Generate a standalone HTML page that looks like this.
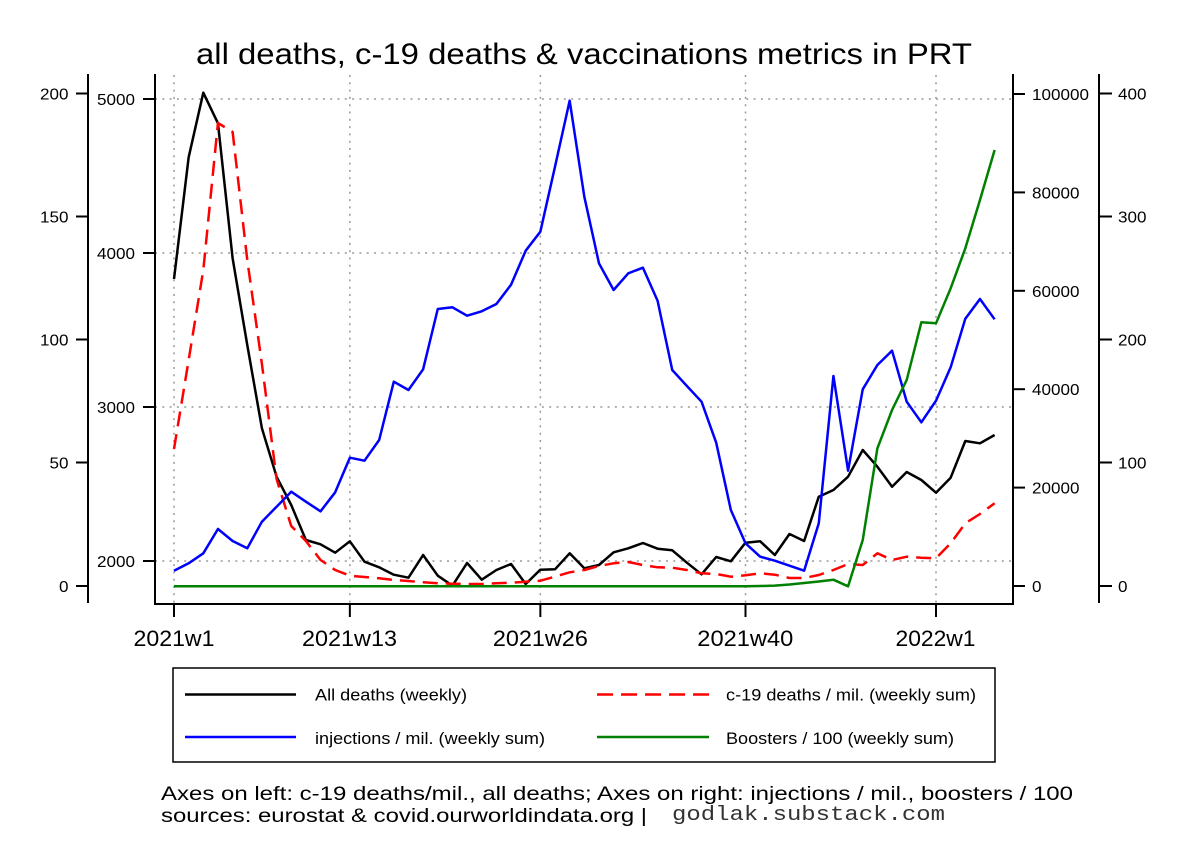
<!DOCTYPE html>
<html>
<head>
<meta charset="utf-8">
<style>
html,body{margin:0;padding:0;background:#fff;}
svg{display:block;}
text{font-family:"Liberation Sans",Arial,sans-serif;fill:#000;}
</style>
</head>
<body>
<svg width="1188" height="864" viewBox="0 0 1188 864" xmlns="http://www.w3.org/2000/svg">
<rect x="0" y="0" width="1188" height="864" fill="#fff"/>

<!-- title -->
<text x="196" y="64" font-size="30" textLength="776" lengthAdjust="spacingAndGlyphs">all deaths, c-19 deaths &amp; vaccinations metrics in PRT</text>

<!-- grid -->
<g stroke="#999" stroke-width="1.5" stroke-dasharray="2 5.3" fill="none">
<line x1="155" y1="99" x2="1013" y2="99"/>
<line x1="155" y1="253" x2="1013" y2="253"/>
<line x1="155" y1="407" x2="1013" y2="407"/>
<line x1="155" y1="561" x2="1013" y2="561"/>
<line x1="174" y1="75" x2="174" y2="604"/>
<line x1="349.85" y1="75" x2="349.85" y2="604"/>
<line x1="540.35" y1="75" x2="540.35" y2="604"/>
<line x1="745.51" y1="75" x2="745.51" y2="604"/>
<line x1="936.01" y1="75" x2="936.01" y2="604"/>
</g>

<!-- axes lines -->
<g stroke="#000" stroke-width="2" fill="none">
<polyline points="155,74 155,604 1013,604 1013,74"/>
<line x1="88" y1="74" x2="88" y2="603"/>
<line x1="76" y1="93.5" x2="88" y2="93.5"/>
<line x1="76" y1="216.5" x2="88" y2="216.5"/>
<line x1="76" y1="339.5" x2="88" y2="339.5"/>
<line x1="76" y1="462.5" x2="88" y2="462.5"/>
<line x1="76" y1="586" x2="88" y2="586"/>
<line x1="143" y1="99" x2="155" y2="99"/>
<line x1="143" y1="253" x2="155" y2="253"/>
<line x1="143" y1="407" x2="155" y2="407"/>
<line x1="143" y1="561" x2="155" y2="561"/>
<line x1="1013" y1="94" x2="1025" y2="94"/>
<line x1="1013" y1="192.4" x2="1025" y2="192.4"/>
<line x1="1013" y1="290.8" x2="1025" y2="290.8"/>
<line x1="1013" y1="389.2" x2="1025" y2="389.2"/>
<line x1="1013" y1="487.6" x2="1025" y2="487.6"/>
<line x1="1013" y1="586" x2="1025" y2="586"/>
<line x1="1099" y1="74" x2="1099" y2="603"/>
<line x1="1099" y1="93.5" x2="1112" y2="93.5"/>
<line x1="1099" y1="216.5" x2="1112" y2="216.5"/>
<line x1="1099" y1="339.5" x2="1112" y2="339.5"/>
<line x1="1099" y1="462.5" x2="1112" y2="462.5"/>
<line x1="1099" y1="586" x2="1112" y2="586"/>
<line x1="174" y1="604" x2="174" y2="617"/>
<line x1="349.85" y1="604" x2="349.85" y2="617"/>
<line x1="540.35" y1="604" x2="540.35" y2="617"/>
<line x1="745.51" y1="604" x2="745.51" y2="617"/>
<line x1="936.01" y1="604" x2="936.01" y2="617"/>
</g>

<g font-size="16" text-anchor="end">
<text x="68.5" y="99.5" textLength="28.5" lengthAdjust="spacingAndGlyphs">200</text>
<text x="68.5" y="222.5" textLength="28.5" lengthAdjust="spacingAndGlyphs">150</text>
<text x="68.5" y="345.5" textLength="28.5" lengthAdjust="spacingAndGlyphs">100</text>
<text x="68.5" y="468.5" textLength="19" lengthAdjust="spacingAndGlyphs">50</text>
<text x="68.5" y="592" textLength="9.5" lengthAdjust="spacingAndGlyphs">0</text>
</g>
<g font-size="16" text-anchor="end">
<text x="135" y="105" textLength="38" lengthAdjust="spacingAndGlyphs">5000</text>
<text x="135" y="259" textLength="38" lengthAdjust="spacingAndGlyphs">4000</text>
<text x="135" y="413" textLength="38" lengthAdjust="spacingAndGlyphs">3000</text>
<text x="135" y="567" textLength="38" lengthAdjust="spacingAndGlyphs">2000</text>
</g>
<g font-size="16">
<text x="1032" y="100" textLength="57" lengthAdjust="spacingAndGlyphs">100000</text>
<text x="1032" y="198.4" textLength="47.5" lengthAdjust="spacingAndGlyphs">80000</text>
<text x="1032" y="296.8" textLength="47.5" lengthAdjust="spacingAndGlyphs">60000</text>
<text x="1032" y="395.2" textLength="47.5" lengthAdjust="spacingAndGlyphs">40000</text>
<text x="1032" y="493.6" textLength="47.5" lengthAdjust="spacingAndGlyphs">20000</text>
<text x="1032" y="592" textLength="9.5" lengthAdjust="spacingAndGlyphs">0</text>
</g>
<g font-size="16">
<text x="1118" y="99.5" textLength="28.5" lengthAdjust="spacingAndGlyphs">400</text>
<text x="1118" y="222.5" textLength="28.5" lengthAdjust="spacingAndGlyphs">300</text>
<text x="1118" y="345.5" textLength="28.5" lengthAdjust="spacingAndGlyphs">200</text>
<text x="1118" y="468.5" textLength="28.5" lengthAdjust="spacingAndGlyphs">100</text>
<text x="1118" y="592" textLength="9.5" lengthAdjust="spacingAndGlyphs">0</text>
</g>

<g font-size="22" text-anchor="middle">
<text x="174" y="646" textLength="81" lengthAdjust="spacingAndGlyphs">2021w1</text>
<text x="349.5" y="646" textLength="95" lengthAdjust="spacingAndGlyphs">2021w13</text>
<text x="540.35" y="646" textLength="95" lengthAdjust="spacingAndGlyphs">2021w26</text>
<text x="745.3" y="646" textLength="96" lengthAdjust="spacingAndGlyphs">2021w40</text>
<text x="935.5" y="646" textLength="80" lengthAdjust="spacingAndGlyphs">2022w1</text>
</g>

<g fill="none" stroke-width="2.5" stroke-linejoin="round">
<polyline stroke="#000" points="174,279 188.65,157.3 203.31,92.7 217.96,123.3 232.62,258.3 247.27,345 261.92,428.3 276.58,476.7 291.23,505 305.89,540 320.54,544.3 335.19,552.7 349.85,541.3 364.5,561.7 379.16,567.3 393.81,574.7 408.46,577.7 423.12,555 437.77,575.7 452.43,585.7 467.08,563 481.73,579.7 496.39,570 511.04,564 525.7,584 540.35,569.7 555,569.3 569.66,553.3 584.31,568.3 598.97,565 613.62,552.3 628.27,548.3 642.93,543 657.58,548.7 672.24,550.3 686.89,562.7 701.54,574.3 716.2,557 730.85,561.3 745.51,542.7 760.16,541.3 774.81,555 789.47,534 804.12,541 818.78,496.7 833.43,490 848.08,476.7 862.74,450 877.39,466.7 892.05,486.7 906.7,472 921.35,480 936.01,492.7 950.66,477.7 965.32,441 979.97,443.3 994.62,435"/>
<polyline stroke="#ff0000" stroke-dasharray="15 8" points="174,449 188.65,360 203.31,270 217.96,123 232.62,132 247.27,260 261.92,364 276.58,479 291.23,526 305.89,541 320.54,560 335.19,570 349.85,575.7 364.5,577 379.16,578.3 393.81,580 408.46,581 423.12,582.3 437.77,583.3 452.43,583.7 467.08,584 481.73,584 496.39,583.3 511.04,582.7 525.7,581.7 540.35,580.7 555,576.7 569.66,572.3 584.31,570 598.97,566 613.62,563.3 628.27,562 642.93,565 657.58,567.3 672.24,567.7 686.89,570 701.54,573.3 716.2,574 730.85,576.7 745.51,575.3 760.16,573.3 774.81,574.7 789.47,578 804.12,578 818.78,575 833.43,570 848.08,564 862.74,565 877.39,553.3 892.05,560 906.7,556.7 921.35,557.7 936.01,558.3 950.66,543.3 965.32,523.3 979.97,514 994.62,503.3"/>
<polyline stroke="#0000ff" points="174,570.7 188.65,563.3 203.31,553.3 217.96,529 232.62,541 247.27,548.3 261.92,521.7 276.58,506.7 291.23,491.7 305.89,501.7 320.54,511.3 335.19,492.3 349.85,457.7 364.5,460.7 379.16,440 393.81,381.7 408.46,390 423.12,369.3 437.77,309 452.43,307.3 467.08,315.7 481.73,311.3 496.39,304 511.04,284.7 525.7,250.7 540.35,231.7 555,166.7 569.66,100.7 584.31,196.7 598.97,263.3 613.62,290 628.27,273.3 642.93,267.7 657.58,300.7 672.24,370 686.89,386 701.54,401.7 716.2,442.7 730.85,510 745.51,543.3 760.16,556.7 774.81,560.7 789.47,565.7 804.12,570.7 818.78,523.3 833.43,376 848.08,470.7 862.74,389.3 877.39,365 892.05,350.7 906.7,401.7 921.35,422.3 936.01,400.7 950.66,367.3 965.32,318.7 979.97,299 994.62,319.3"/>
<polyline stroke="#008000" points="174,586.3 730.85,586.3 745.51,586.2 760.16,586 774.81,585.6 789.47,584.5 804.12,583 818.78,581.5 833.43,579.7 848.08,586.3 862.74,540 877.39,448.3 892.05,410 906.7,380 921.35,322.3 936.01,323.3 950.66,288.3 965.32,248.3 979.97,200 994.62,150"/>
</g>

<rect x="173" y="668" width="822" height="94" fill="none" stroke="#000" stroke-width="1.5"/>
<g stroke-width="2.5" fill="none">
<line x1="185" y1="694.5" x2="296" y2="694.5" stroke="#000"/>
<line x1="597" y1="694.5" x2="709" y2="694.5" stroke="#ff0000" stroke-dasharray="16 8"/>
<line x1="185" y1="737" x2="296" y2="737" stroke="#0000ff"/>
<line x1="597" y1="737" x2="709" y2="737" stroke="#008000"/>
</g>
<g font-size="17">
<text x="315" y="700.5" textLength="152" lengthAdjust="spacingAndGlyphs">All deaths (weekly)</text>
<text x="726" y="700.5" textLength="250" lengthAdjust="spacingAndGlyphs">c-19 deaths / mil. (weekly sum)</text>
<text x="315" y="744" textLength="230" lengthAdjust="spacingAndGlyphs">injections / mil. (weekly sum)</text>
<text x="726" y="744" textLength="228" lengthAdjust="spacingAndGlyphs">Boosters / 100 (weekly sum)</text>
</g>

<text x="161" y="800" font-size="19" textLength="912" lengthAdjust="spacingAndGlyphs">Axes on left: c-19 deaths/mil., all deaths; Axes on right: injections / mil., boosters / 100</text>
<text x="161" y="822" font-size="19" textLength="486" lengthAdjust="spacingAndGlyphs">sources: eurostat &amp; covid.ourworldindata.org |</text>
<text x="672" y="820" font-size="20" style="font-family:'Liberation Mono','Courier New',monospace;fill:#333" textLength="273" lengthAdjust="spacingAndGlyphs">godlak.substack.com</text>
</svg>
</body>
</html>
